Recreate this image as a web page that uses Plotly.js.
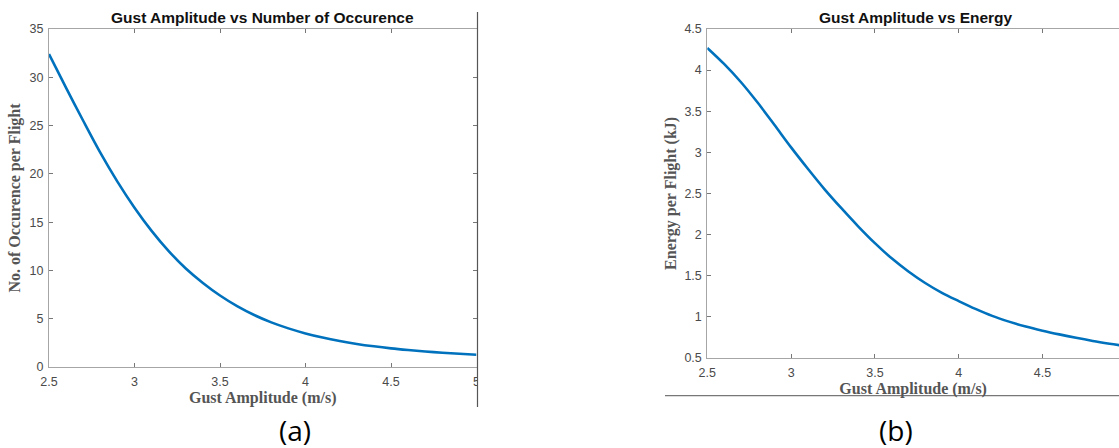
<!DOCTYPE html>
<html>
<head>
<meta charset="utf-8">
<script src="https://cdn.plot.ly/plotly-3.0.1.min.js"></script>
<style>html,body{margin:0;padding:0;background:#fff;}#chart{width:1119px;height:448px;}</style>
</head>
<body>
<div id="chart"></div>
<script>
// Gust amplitude (m/s)
var gustAmplitude = [2.5, 2.6, 2.7, 2.8, 2.9, 3.0, 3.1, 3.2, 3.3, 3.4, 3.5, 3.6, 3.7, 3.8, 3.9, 4.0, 4.1, 4.2, 4.3, 4.4, 4.5, 4.6, 4.7, 4.8, 4.9, 5.0];
// (a) number of occurrence per flight
var occurrencePerFlight = [32.4, 28.9, 25.5, 22.2, 19.2, 16.5, 14.1, 12.0, 10.2, 8.7, 7.4, 6.3, 5.38, 4.62, 4.0, 3.48, 3.05, 2.69, 2.39, 2.14, 1.93, 1.76, 1.61, 1.48, 1.37, 1.27];
// (b) energy per flight (kJ)
var energyPerFlight = [4.27, 4.075, 3.855, 3.605, 3.335, 3.06, 2.80, 2.55, 2.32, 2.10, 1.895, 1.71, 1.55, 1.41, 1.29, 1.19, 1.095, 1.01, 0.94, 0.88, 0.83, 0.785, 0.743, 0.705, 0.672, 0.642];

var titleA = "Gust Amplitude vs Number of Occurence";
var titleB = "Gust Amplitude vs Energy";
var xLabel = "Gust Amplitude (m/s)";
var yLabelA = "No. of Occurence per Flight";
var yLabelB = "Energy per Flight (kJ)";
var captions = ["(a)", "(b)"];

var W = 1119, H = 448;
function px(x){ return x / W; }
function py(y){ return 1 - y / H; }

var lineStyle = {color: '#0072BD', width: 2.6, shape: 'spline', smoothing: 0.9};

var traces = [
  {x: gustAmplitude, y: occurrencePerFlight, type: 'scatter', mode: 'lines', line: lineStyle, xaxis: 'x', yaxis: 'y', showlegend: false, hoverinfo: 'skip'},
  {x: gustAmplitude, y: energyPerFlight, type: 'scatter', mode: 'lines', line: lineStyle, xaxis: 'x2', yaxis: 'y2', showlegend: false, hoverinfo: 'skip', cliponaxis: true}
];

var axisGray = '#a6a6a6';
var tickFont = {family: 'Liberation Sans, Arial, sans-serif', size: 12.5, color: '#4a4a4a'};
var labFont = {family: 'Liberation Serif, Times New Roman, serif', size: 16, color: '#555555', weight: 'bold'};
var titleFont = {family: 'Liberation Sans, Arial, sans-serif', size: 15.5, color: '#111', weight: 'bold'};

function xAxis(domain, range, mirror){
  return {domain: domain, range: range, showgrid: false, zeroline: false, showline: true, linecolor: axisGray, linewidth: 1,
    mirror: mirror, ticks: 'inside', ticklen: 4, tickcolor: '#777', tickwidth: 1, tickfont: tickFont, ticklabelstandoff: 3,
    tickvals: [2.5, 3, 3.5, 4, 4.5, 5], ticktext: ['2.5', '3', '3.5', '4', '4.5', '5'], fixedrange: true};
}
function yAxis(domain, range, dtick, anchor, mirror){
  return {domain: domain, range: range, dtick: dtick, tick0: 0, showgrid: false, zeroline: false, showline: true, linecolor: axisGray, linewidth: 1,
    mirror: mirror, ticks: 'inside', ticklen: 4, tickcolor: '#777', tickwidth: 1, tickfont: tickFont, anchor: anchor, fixedrange: true, ticklabelstandoff: 2};
}

var xa = xAxis([px(49), px(476.5)], [2.5, 5], 'ticks');
xa.title = {text: xLabel, font: labFont, standoff: 3};
xa.anchor = 'y';
var ya = yAxis([py(367), py(29)], [0, 35], 5, 'x', 'ticks');
ya.title = {text: yLabelA, font: labFont, standoff: 4};

var xb = xAxis([px(707.3), 1], [2.5, 2.5 + (1119 - 707.3) / 167.6], 'ticks');
xb.title = {text: xLabel, font: labFont, standoff: 3};
xb.anchor = 'y2';
var yb = yAxis([py(357.8), py(29)], [0.5, 4.5], 0.5, 'x2', false);
yb.tick0 = 0.5;
yb.title = {text: yLabelB, font: labFont, standoff: 3};

var layout = {
  width: W, height: H,
  margin: {l: 0, r: 0, t: 0, b: 0},
  paper_bgcolor: '#ffffff', plot_bgcolor: '#ffffff',
  showlegend: false,
  xaxis: xa, yaxis: ya, xaxis2: xb, yaxis2: yb,
  annotations: [
    {text: titleA, x: px(262.5), y: py(17), xref: 'paper', yref: 'paper', showarrow: false, xanchor: 'center', yanchor: 'middle', font: titleFont},
    {text: titleB, x: px(915.8), y: py(17), xref: 'paper', yref: 'paper', showarrow: false, xanchor: 'center', yanchor: 'middle', font: titleFont},
    {text: captions[0], x: px(295), y: py(430), xref: 'paper', yref: 'paper', showarrow: false, xanchor: 'center', yanchor: 'middle',
     font: {family: 'Open Sans, Noto Sans, sans-serif', size: 28, color: '#000'}},
    {text: captions[1], x: px(896), y: py(430), xref: 'paper', yref: 'paper', showarrow: false, xanchor: 'center', yanchor: 'middle',
     font: {family: 'Open Sans, Noto Sans, sans-serif', size: 28, color: '#000'}}
  ],
  shapes: [
    {type: 'rect', xref: 'paper', yref: 'paper', x0: px(478), x1: px(500), y0: py(392), y1: py(368), fillcolor: '#ffffff', line: {width: 0}, layer: 'above'},
    {type: 'line', xref: 'paper', yref: 'paper', x0: px(477.5), x1: px(477.5), y0: py(12), y1: py(407), line: {color: '#555', width: 1.2}, layer: 'above'},
    {type: 'line', xref: 'paper', yref: 'paper', x0: px(665), x1: 1, y0: py(395.7), y1: py(395.7), line: {color: '#777', width: 1.2}, layer: 'above'}
  ]
};

Plotly.newPlot('chart', traces, layout, {displayModeBar: false, staticPlot: true});
</script>
</body>
</html>
